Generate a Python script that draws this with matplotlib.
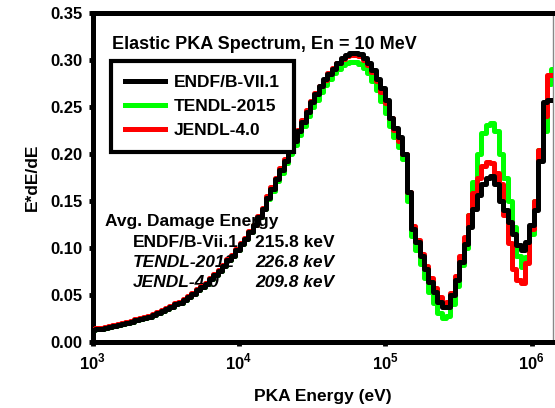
import numpy as np
import matplotlib
matplotlib.use('Agg')
import matplotlib.pyplot as plt

plt.rcParams['font.family'] = 'Liberation Sans'
plt.rcParams['font.weight'] = 'bold'
plt.rcParams['mathtext.fontset'] = 'custom'
plt.rcParams['mathtext.rm'] = 'Liberation Sans:bold'
plt.rcParams['mathtext.bf'] = 'Liberation Sans:bold'

# bin centres, 0.03 decade wide, from 1 keV up past 1.4 MeV
energia = np.logspace(3.0, 6.21, 108)

endf = [0.013, 0.014, 0.014, 0.015, 0.016, 0.017, 0.018, 0.019, 0.020, 0.021,
        0.023, 0.024, 0.026, 0.027, 0.029, 0.031, 0.033, 0.035, 0.037, 0.040,
        0.042, 0.045, 0.048, 0.051, 0.055, 0.059, 0.062, 0.067, 0.071, 0.076,
        0.081, 0.087, 0.092, 0.098, 0.104, 0.110, 0.117, 0.124, 0.133, 0.142,
        0.153, 0.163, 0.173, 0.183, 0.193, 0.203, 0.214, 0.224, 0.234, 0.245,
        0.255, 0.264, 0.272, 0.280, 0.285, 0.291, 0.297, 0.302, 0.305, 0.307,
        0.307, 0.306, 0.302, 0.297, 0.289, 0.280, 0.270, 0.258, 0.238, 0.228,
        0.218, 0.200, 0.160, 0.120, 0.106, 0.091, 0.078, 0.064, 0.053, 0.043,
        0.037, 0.037, 0.050, 0.066, 0.085, 0.104, 0.122, 0.142, 0.156, 0.168,
        0.175, 0.177, 0.168, 0.150, 0.140, 0.128, 0.115, 0.103, 0.098, 0.106,
        0.125, 0.140, 0.193, 0.255, 0.257, 0.257, 0.257, 0.257]

tendl = [0.013, 0.014, 0.014, 0.015, 0.016, 0.017, 0.018, 0.019, 0.020, 0.021,
         0.023, 0.024, 0.026, 0.027, 0.029, 0.031, 0.033, 0.035, 0.037, 0.040,
         0.042, 0.045, 0.048, 0.051, 0.055, 0.059, 0.062, 0.067, 0.071, 0.076,
         0.081, 0.087, 0.092, 0.098, 0.104, 0.110, 0.117, 0.124, 0.133, 0.142,
         0.152, 0.161, 0.171, 0.180, 0.190, 0.200, 0.210, 0.220, 0.230, 0.240,
         0.250, 0.258, 0.266, 0.273, 0.280, 0.286, 0.291, 0.295, 0.297, 0.298,
         0.298, 0.296, 0.292, 0.286, 0.278, 0.268, 0.256, 0.244, 0.230, 0.218,
         0.208, 0.195, 0.150, 0.113, 0.098, 0.083, 0.068, 0.053, 0.041, 0.031,
         0.026, 0.028, 0.040, 0.060, 0.082, 0.100, 0.135, 0.170, 0.200, 0.222,
         0.231, 0.233, 0.225, 0.200, 0.175, 0.150, 0.122, 0.092, 0.080, 0.090,
         0.115, 0.150, 0.204, 0.225, 0.275, 0.290, 0.290, 0.290]

jendl = [0.014, 0.015, 0.015, 0.016, 0.017, 0.018, 0.019, 0.020, 0.021, 0.022,
         0.024, 0.025, 0.027, 0.028, 0.030, 0.032, 0.034, 0.036, 0.038, 0.041,
         0.043, 0.046, 0.049, 0.052, 0.056, 0.060, 0.063, 0.068, 0.072, 0.077,
         0.082, 0.088, 0.093, 0.099, 0.105, 0.111, 0.118, 0.125, 0.134, 0.143,
         0.155, 0.165, 0.175, 0.185, 0.195, 0.205, 0.216, 0.226, 0.236, 0.247,
         0.256, 0.265, 0.272, 0.279, 0.286, 0.292, 0.297, 0.301, 0.304, 0.305,
         0.305, 0.304, 0.300, 0.295, 0.287, 0.278, 0.266, 0.254, 0.238, 0.226,
         0.214, 0.200, 0.160, 0.123, 0.108, 0.094, 0.081, 0.068, 0.057, 0.048,
         0.042, 0.043, 0.052, 0.070, 0.092, 0.112, 0.135, 0.158, 0.175, 0.187,
         0.192, 0.190, 0.180, 0.168, 0.135, 0.105, 0.078, 0.066, 0.063, 0.084,
         0.120, 0.150, 0.204, 0.240, 0.284, 0.284, 0.284, 0.284]

nazwy = ['ENDF/B-VII.1', 'TENDL-2015', 'JENDL-4.0']
kolory = ['black', '#00ff00', '#ff0000']

fig = plt.figure(figsize=(5.55, 4.08), dpi=100)
ax = fig.add_axes([0.1667, 0.1618, 0.8297, 0.8062])

lw = 3.6
l_t, = ax.step(energia, tendl, where='mid', color=kolory[1], lw=lw, zorder=3)
l_j, = ax.step(energia, jendl, where='mid', color=kolory[2], lw=lw, zorder=4)
l_e, = ax.step(energia, endf, where='mid', color=kolory[0], lw=lw, zorder=5)

ax.set_xscale('log')
ax.set_xlim(1e3, 1.4e6)
ax.set_ylim(0, 0.35)
ax.set_xticks([1e3, 1e4, 1e5, 1e6])
ax.set_xticklabels([r'$10^{3}$', r'$10^{4}$', r'$10^{5}$', r'$10^{6}$'])
ax.xaxis.set_minor_locator(matplotlib.ticker.NullLocator())
ax.set_yticks(np.arange(0, 0.351, 0.05))
ax.set_yticklabels(['%.2f' % v for v in np.arange(0, 0.351, 0.05)])
ax.tick_params(axis='both', labelsize=12, length=3, width=3.5, direction='out', pad=4)

for s in ['left', 'bottom', 'top']:
    ax.spines[s].set_linewidth(3.6)
ax.spines['right'].set_linewidth(1.0)
ax.spines['right'].set_color('#888888')

ax.set_xlabel('PKA Energy (eV)', fontsize=12.5, fontweight='bold', labelpad=12)
ax.set_ylabel('E*dE/dE', fontsize=12.5, fontweight='bold', labelpad=8)

ax.text(0.043, 0.905, 'Elastic PKA Spectrum, En = 10 MeV', transform=ax.transAxes,
        fontsize=13, fontweight='bold', va='center', ha='left')

leg = ax.legend([l_e, l_t, l_j], nazwy, loc='upper left', bbox_to_anchor=(0.041, 0.853),
                borderaxespad=0, fancybox=False, framealpha=1, edgecolor='black',
                prop={'size': 12.5, 'weight': 'bold'}, handlelength=2.3,
                handletextpad=0.5, labelspacing=0.5, borderpad=0.8)
leg.get_frame().set_linewidth(3.0)
leg.set_zorder(6)

# average damage energy table
ax.text(0.028, 0.366, 'Avg. Damage Energy', transform=ax.transAxes, fontsize=12.5,
        fontweight='bold', va='center', ha='left', zorder=1)
wiersze = [('ENDF/B-Vii.1', '215.8 keV', 'normal'),
           ('TENDL-2012', '226.8 keV', 'italic'),
           ('JENDL-4.0', '209.8 keV', 'italic')]
for i, (n, e, st) in enumerate(wiersze):
    y = 0.302 - i * 0.061
    ax.text(0.087, y, n, transform=ax.transAxes, fontsize=12.5, fontweight='bold',
            style=st, va='center', ha='left', zorder=1)
    ax.text(0.525, y, e, transform=ax.transAxes, fontsize=12.5, fontweight='bold',
            style=st, va='center', ha='right', zorder=1)

fig.savefig('out.png', dpi=100)
